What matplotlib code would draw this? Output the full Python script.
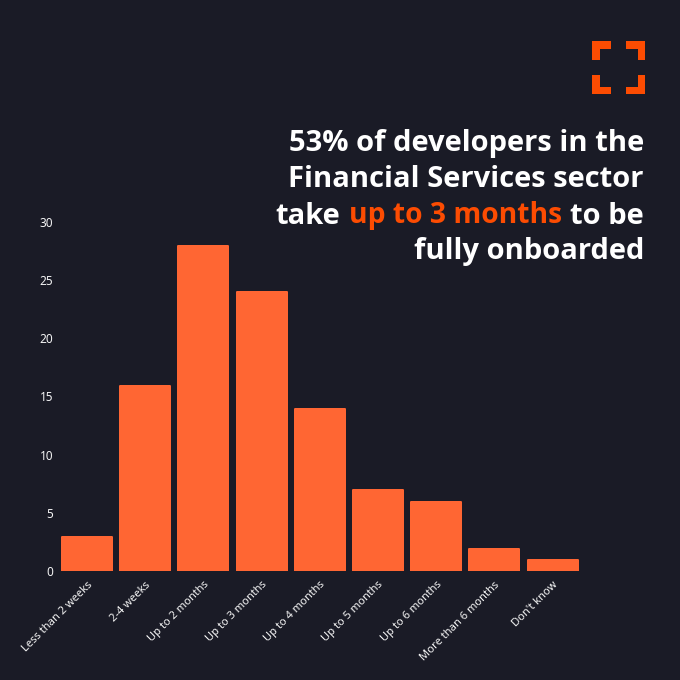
import matplotlib
matplotlib.use("Agg")
import matplotlib.pyplot as plt
from matplotlib.patches import Rectangle

categories = ["Less than 2 weeks", "2-4 weeks", "Up to 2 months", "Up to 3 months", "Up to 4 months",
              "Up to 5 months", "Up to 6 months", "More than 6 months", "Don't know"]
values = [3, 16, 28, 24, 14, 7, 6, 2, 1]
yticks = [0, 5, 10, 15, 20, 25, 30]

BG = "#1a1b26"
BAR = "#ff6633"
ACC = "#fc4c02"

plt.rcParams['font.family'] = ['Noto Sans', 'DejaVu Sans']
fig = plt.figure(figsize=(6.8, 6.8), dpi=100, facecolor=BG)
ax = fig.add_axes([58/680, 1-571/680, 550/680, (571-221.5)/680], facecolor=BG)
bars = ax.bar(range(len(values)), values, width=0.86, bottom=-0.086, color=BAR,
              edgecolor=BAR, linewidth=1.44)
for b in bars:
    b.set_joinstyle('round')
ax.set_xlim(-0.498, 8.952)
ax.set_ylim(0, 30)
ax.set_yticks(yticks)
ax.set_xticks(range(len(categories)))
ax.set_xticklabels(categories, rotation=45, ha='right', rotation_mode='anchor', color='#f4f4f4', fontsize=8.0)
ax.tick_params(axis='x', length=0, colors='#f4f4f4', pad=6)
ax.tick_params(axis='y', length=0, colors='#f4f4f4', labelsize=8.5, pad=3.5)
for s in ax.spines.values():
    s.set_visible(False)

def t(x, y, s, ha='right', color='white', fs=21):
    return fig.text(x/680, 1-y/680, s, color=color, fontsize=fs, fontweight='bold',
                    family=['Open Sans', 'DejaVu Sans'], va='center', ha=ha)
t(644, 144, "53% of developers in the")
t(644, 180, "Financial Services sector")
t(644, 216, "to be")
t(349, 216, "up to 3 months", ha='left', color=ACC, fs=20.3)
t(340, 216, "take")
t(644, 252, "fully onboarded")

# corner-bracket logo
def r(x, y, w, h):
    fig.add_artist(Rectangle((x/680, 1-(y+h)/680), w/680, h/680, transform=fig.transFigure, color=ACC, lw=0))
L, T, R, B, th, arm = 592, 41, 645, 94, 7.5, 19
r(L, T, arm, th); r(L, T, th, arm)
r(R-arm, T, arm, th); r(R-th, T, th, arm)
r(L, B-th, arm, th); r(L, B-arm, th, arm)
r(R-arm, B-th, arm, th); r(R-th, B-arm, th, arm)

fig.savefig("out.png", dpi=100, facecolor=BG)
